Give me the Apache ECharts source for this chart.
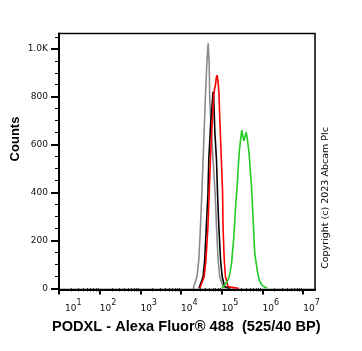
<!DOCTYPE html>
<html><head><meta charset="utf-8">
<script src="https://cdn.jsdelivr.net/npm/echarts@6/dist/echarts.min.js"></script>
<style>html,body{margin:0;padding:0;background:#fff}#c{width:362px;height:351px}</style>
</head><body><div id="c"></div>
<script>
// x values are log10 of fluorescence intensity
const xTickExponents = [1, 2, 3, 4, 5, 6, 7];
const yTickValues = [0, 200, 400, 600, 800, 1000];
const yTickLabels = ['0', '200', '400', '600', '800', '1.0K'];

const grayX = [4.30, 4.34, 4.39, 4.435, 4.476, 4.51, 4.54, 4.593, 4.63, 4.664, 4.69, 4.705, 4.75, 4.786, 4.836, 4.87, 4.91, 4.95, 5.03, 5.10, 5.20, 5.30, 5.40];
const grayY = [0, 7, 48, 118, 257, 397, 535, 780, 930, 1023, 940, 780, 640, 535, 397, 257, 118, 48, 7, 5, 3, 1, 0];

const blackX = [4.44, 4.48, 4.54, 4.58, 4.62, 4.66, 4.68, 4.73, 4.787, 4.80, 4.83, 4.87, 4.895, 4.927, 4.97, 5.01, 5.07, 5.12, 5.20];
const blackY = [0, 7, 48, 118, 257, 397, 535, 700, 821, 800, 650, 535, 397, 257, 118, 48, 7, 3, 0];

const redX = [4.46, 4.50, 4.565, 4.61, 4.66, 4.69, 4.72, 4.76, 4.80, 4.82, 4.845, 4.865, 4.885, 4.91, 4.93, 4.95, 4.99, 5.02, 5.03, 5.06, 5.09, 5.155, 5.22, 5.30, 5.36, 5.42];
const redY = [0, 7, 48, 118, 257, 397, 535, 680, 800, 830, 850, 880, 890, 860, 814, 710, 535, 397, 257, 118, 48, 7, 5, 3, 1, 0];

const greenX = [5.00, 5.07, 5.155, 5.20, 5.24, 5.26, 5.296, 5.32, 5.345, 5.377, 5.40, 5.426, 5.46, 5.49, 5.54, 5.60, 5.63, 5.67, 5.73, 5.77, 5.81, 5.87, 5.92, 5.98, 6.05, 6.12];
const greenY = [0, 14, 35, 63, 104, 146, 215, 285, 355, 424, 494, 564, 619, 661, 615, 652, 620, 564, 424, 285, 146, 76, 35, 14, 5, 0];

const zip = (xs, ys) => xs.map((x, i) => [x, ys[i]]);

const minorX = [];
xTickExponents.slice(0, -1).forEach(e => { for (let k = 2; k <= 9; k++) minorX.push(e + Math.log10(k)); });
const minorY = [];
yTickValues.forEach(v => { [50, 100, 150].forEach(d => minorY.push(v + d)); });
minorY.pop(); minorY.pop();

const chart = echarts.init(document.getElementById('c'), null, {renderer: 'canvas'});
const XMIN = 1, XMAX = 7.29, YMIN = -5, YMAX = 1064;
const mk = (name, xs, ys, color) => ({
  name, type: 'line', data: zip(xs, ys), showSymbol: false, smooth: false,
  lineStyle: {color, width: 1.6}, itemStyle: {color}, z: 3
});
chart.setOption({
  animation: false,
  backgroundColor: '#fff',
  grid: {left: 59, top: 33.5, right: 47, bottom: 61.5, show: true, borderColor: '#000', borderWidth: 1.5, containLabel: false},
  xAxis: [{
    type: 'value', min: XMIN, max: XMAX, position: 'bottom',
    axisLine: {show: true, onZero: false, lineStyle: {color: '#000', width: 2}},
    axisTick: {show: true, customValues: xTickExponents, length: 5, lineStyle: {color: '#000', width: 2}},
    axisLabel: {
      customValues: xTickExponents, align: 'left', margin: 9,
      formatter: v => (v === 1 ? '{p|}' : '') + '{b|10}{s|' + v + '}',
      rich: {
        p: {width: 6},
        b: {fontSize: 9, fontFamily: 'DejaVu Sans', color: '#111', verticalAlign: 'bottom'},
        s: {fontSize: 8, fontFamily: 'DejaVu Sans', color: '#111', verticalAlign: 'bottom', padding: [0, 0, 7, 0]}
      }
    },
    splitLine: {show: false}
  }, {
    type: 'value', min: XMIN, max: XMAX, position: 'bottom', offset: 0,
    axisLine: {show: false},
    axisTick: {show: true, customValues: minorX, length: 3, lineStyle: {color: '#000', width: 1}},
    axisLabel: {show: false}, splitLine: {show: false}
  }],
  yAxis: [{
    type: 'value', min: YMIN, max: YMAX, position: 'left',
    axisLine: {show: true, onZero: false, lineStyle: {color: '#000', width: 2}},
    axisTick: {show: true, customValues: yTickValues, length: 8, lineStyle: {color: '#000', width: 2}},
    axisLabel: {customValues: yTickValues, margin: 11, fontSize: 9, fontFamily: 'DejaVu Sans', color: '#111',
      formatter: v => yTickLabels[yTickValues.indexOf(v)]},
    splitLine: {show: false}
  }, {
    type: 'value', min: YMIN, max: YMAX, position: 'left', offset: 0,
    axisLine: {show: false},
    axisTick: {show: true, customValues: minorY, length: 4, lineStyle: {color: '#000', width: 1}},
    axisLabel: {show: false}, splitLine: {show: false}
  }],
  series: [
    mk('Gray', grayX, grayY, '#8a8a8a'),
    mk('Black', blackX, blackY, '#000000'),
    mk('Red', redX, redY, '#ff0000'),
    mk('Green', greenX, greenY, '#22cc22')
  ],
  graphic: [
    {type: 'text', x: 15, y: 139, rotation: Math.PI / 2,
      style: {text: 'Counts', font: 'bold 13px "Liberation Sans", Arial', fill: '#000', align: 'center', verticalAlign: 'middle'}},
    {type: 'text', x: 52, y: 327,
      style: {text: 'PODXL - Alexa Fluor® 488  (525/40 BP)', font: 'bold 14.6px "Liberation Sans", Arial', fill: '#000', align: 'left', verticalAlign: 'middle'}},
    {type: 'text', x: 326, y: 198, rotation: Math.PI / 2,
      style: {text: 'Copyright (c) 2023 Abcam Plc', font: '9.5px "DejaVu Sans"', fill: '#000', align: 'center', verticalAlign: 'middle'}}
  ]
});
</script>
</body></html>
